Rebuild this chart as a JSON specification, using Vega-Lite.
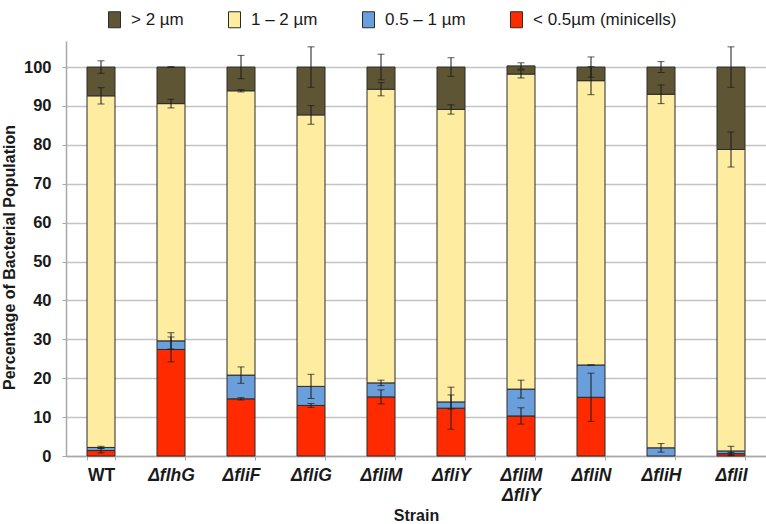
{
  "$schema": "https://vega.github.io/schema/vega-lite/v6.json",
  "width": 700,
  "height": 415,
  "autosize": {"type": "none"},
  "padding": {"left": 66, "top": 41, "right": 0, "bottom": 68},
  "background": "white",
  "config": {"font": "Liberation Sans", "view": {"stroke": null}},
  "data": {
    "values": [
      {"strain": "WT", "size": "< 0.5µm (minicells)", "rank": 1, "value": 1.4, "err": 0.6},
      {"strain": "WT", "size": "0.5 – 1 µm", "rank": 2, "value": 0.8, "err": 0.3},
      {"strain": "WT", "size": "1 – 2 µm", "rank": 3, "value": 90.4, "err": 2.1},
      {"strain": "WT", "size": "> 2 µm", "rank": 4, "value": 7.4, "err": 1.6},
      {"strain": "ΔflhG", "size": "< 0.5µm (minicells)", "rank": 1, "value": 27.4, "err": 3.2},
      {"strain": "ΔflhG", "size": "0.5 – 1 µm", "rank": 2, "value": 2.2, "err": 2.1},
      {"strain": "ΔflhG", "size": "1 – 2 µm", "rank": 3, "value": 61.0, "err": 1.1},
      {"strain": "ΔflhG", "size": "> 2 µm", "rank": 4, "value": 9.4, "err": 0.1},
      {"strain": "ΔfliF", "size": "< 0.5µm (minicells)", "rank": 1, "value": 14.7, "err": 0.3},
      {"strain": "ΔfliF", "size": "0.5 – 1 µm", "rank": 2, "value": 6.1, "err": 2.1},
      {"strain": "ΔfliF", "size": "1 – 2 µm", "rank": 3, "value": 73.1, "err": 0.3},
      {"strain": "ΔfliF", "size": "> 2 µm", "rank": 4, "value": 6.1, "err": 3.0},
      {"strain": "ΔfliG", "size": "< 0.5µm (minicells)", "rank": 1, "value": 13.0, "err": 0.5},
      {"strain": "ΔfliG", "size": "0.5 – 1 µm", "rank": 2, "value": 4.9, "err": 3.1},
      {"strain": "ΔfliG", "size": "1 – 2 µm", "rank": 3, "value": 69.8, "err": 2.4},
      {"strain": "ΔfliG", "size": "> 2 µm", "rank": 4, "value": 12.3, "err": 5.2},
      {"strain": "ΔfliM", "size": "< 0.5µm (minicells)", "rank": 1, "value": 15.2, "err": 1.8},
      {"strain": "ΔfliM", "size": "0.5 – 1 µm", "rank": 2, "value": 3.6, "err": 0.7},
      {"strain": "ΔfliM", "size": "1 – 2 µm", "rank": 3, "value": 75.5, "err": 1.7},
      {"strain": "ΔfliM", "size": "> 2 µm", "rank": 4, "value": 5.7, "err": 3.3},
      {"strain": "ΔfliY", "size": "< 0.5µm (minicells)", "rank": 1, "value": 12.3, "err": 5.4},
      {"strain": "ΔfliY", "size": "0.5 – 1 µm", "rank": 2, "value": 1.6, "err": 1.8},
      {"strain": "ΔfliY", "size": "1 – 2 µm", "rank": 3, "value": 75.2, "err": 1.2},
      {"strain": "ΔfliY", "size": "> 2 µm", "rank": 4, "value": 10.9, "err": 2.4},
      {"strain": "ΔfliM ΔfliY", "size": "< 0.5µm (minicells)", "rank": 1, "value": 10.3, "err": 2.1},
      {"strain": "ΔfliM ΔfliY", "size": "0.5 – 1 µm", "rank": 2, "value": 6.9, "err": 2.3},
      {"strain": "ΔfliM ΔfliY", "size": "1 – 2 µm", "rank": 3, "value": 81.0, "err": 1.0},
      {"strain": "ΔfliM ΔfliY", "size": "> 2 µm", "rank": 4, "value": 2.1, "err": 0.8},
      {"strain": "ΔfliN", "size": "< 0.5µm (minicells)", "rank": 1, "value": 15.1, "err": 6.2},
      {"strain": "ΔfliN", "size": "0.5 – 1 µm", "rank": 2, "value": 8.3, "err": 0.0},
      {"strain": "ΔfliN", "size": "1 – 2 µm", "rank": 3, "value": 73.1, "err": 3.6},
      {"strain": "ΔfliN", "size": "> 2 µm", "rank": 4, "value": 3.5, "err": 2.6},
      {"strain": "ΔfliH", "size": "0.5 – 1 µm", "rank": 2, "value": 2.1, "err": 1.1},
      {"strain": "ΔfliH", "size": "1 – 2 µm", "rank": 3, "value": 90.9, "err": 2.4},
      {"strain": "ΔfliH", "size": "> 2 µm", "rank": 4, "value": 7.0, "err": 1.4},
      {"strain": "ΔfliI", "size": "< 0.5µm (minicells)", "rank": 1, "value": 0.6, "err": 0.3},
      {"strain": "ΔfliI", "size": "0.5 – 1 µm", "rank": 2, "value": 0.7, "err": 1.2},
      {"strain": "ΔfliI", "size": "1 – 2 µm", "rank": 3, "value": 77.5, "err": 4.5},
      {"strain": "ΔfliI", "size": "> 2 µm", "rank": 4, "value": 21.2, "err": 5.2}
    ]
  },
  "transform": [
    {"stack": "value", "groupby": ["strain"], "sort": [{"field": "rank", "order": "ascending"}], "as": ["y0", "y1"]}
  ],
  "layer": [
    {
      "mark": {"type": "bar", "stroke": "#2b2b2b", "strokeWidth": 1},
      "encoding": {
        "x": {
          "field": "strain", "type": "nominal",
          "sort": ["WT", "ΔflhG", "ΔfliF", "ΔfliG", "ΔfliM", "ΔfliY", "ΔfliM ΔfliY", "ΔfliN", "ΔfliH", "ΔfliI"],
          "scale": {"paddingInner": 0.6, "paddingOuter": 0.3},
          "title": "Strain",
          "axis": {
            "labelAngle": 0,
            "labelExpr": "split(datum.label, ' ')",
            "labelFont": "Liberation Sans",
            "labelFontSize": 17.5,
            "labelFontWeight": "bold",
            "labelFontStyle": {"condition": {"test": "datum.value == 'WT'", "value": "normal"}, "value": "italic"},
            "labelColor": "#1a1a1a",
            "labelPadding": 6,
            "labelLineHeight": 20,
            "tickBand": "extent",
            "tickSize": 4,
            "tickColor": "#a8a8a8",
            "domainColor": "#a8a8a8",
            "domainWidth": 1.5,
            "titleFont": "Liberation Sans",
            "titleFontSize": 16,
            "titleFontWeight": "bold",
            "titleColor": "#1a1a1a",
            "titlePadding": 4
          }
        },
        "y": {
          "field": "y0", "type": "quantitative",
          "scale": {"domain": [0, 106.7], "nice": false},
          "title": "Percentage of Bacterial Population",
          "axis": {
            "values": [0, 10, 20, 30, 40, 50, 60, 70, 80, 90, 100],
            "grid": true,
            "gridColor": "#c4c4c4",
            "gridWidth": 1.5,
            "domainColor": "#a8a8a8",
            "domainWidth": 1.5,
            "tickColor": "#a8a8a8",
            "tickSize": 4,
            "labelFont": "Liberation Sans",
            "labelFontSize": 16.5,
            "labelFontWeight": "bold",
            "labelColor": "#1a1a1a",
            "labelPadding": 11,
            "titleFont": "Liberation Sans",
            "titleFontSize": 16,
            "titleFontWeight": "bold",
            "titleColor": "#1a1a1a",
            "titlePadding": 6,
            "titleY": 216
          }
        },
        "y2": {"field": "y1"},
        "color": {
          "field": "size", "type": "nominal",
          "scale": {
            "domain": ["> 2 µm", "1 – 2 µm", "0.5 – 1 µm", "< 0.5µm (minicells)"],
            "range": ["#5e5535", "#feeca1", "#6a9fdb", "#ff2a00"]
          },
          "legend": {
            "orient": "none",
            "legendX": 40,
            "legendY": -30,
            "direction": "horizontal",
            "title": null,
            "labelFont": "Liberation Sans",
            "labelFontSize": 17,
            "labelColor": "#1a1a1a",
            "labelOffset": 8,
            "symbolType": "M-0.75,-1H0.75V1H-0.75Z",
            "symbolSize": 256,
            "symbolStrokeColor": "#2b2b2b",
            "symbolStrokeWidth": 1,
            "symbolOpacity": 1,
            "columnPadding": 42
          }
        }
      }
    },
    {
      "mark": {"type": "errorbar", "color": "#1a1a1a", "ticks": {"size": 7, "thickness": 1}, "rule": {"strokeWidth": 1}},
      "encoding": {
        "x": {"field": "strain", "type": "nominal", "sort": ["WT", "ΔflhG", "ΔfliF", "ΔfliG", "ΔfliM", "ΔfliY", "ΔfliM ΔfliY", "ΔfliN", "ΔfliH", "ΔfliI"]},
        "y": {"field": "y1", "type": "quantitative", "title": "Percentage of Bacterial Population"},
        "yError": {"field": "err"}
      }
    }
  ]
}
